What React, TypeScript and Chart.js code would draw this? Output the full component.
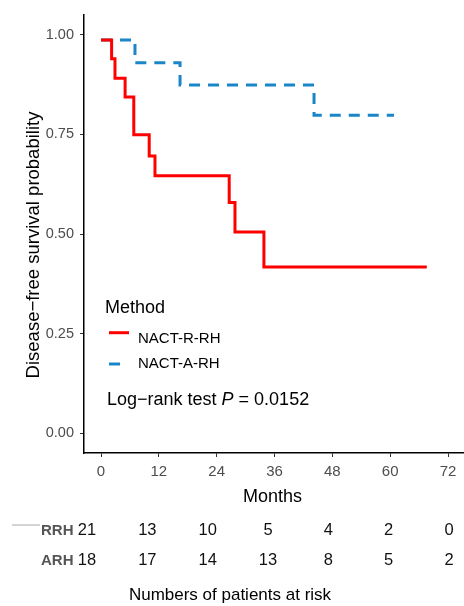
import React, { useEffect, useRef } from 'react';
import { Chart, registerables } from 'chart.js';

Chart.register(...registerables);

// ---- data ----
const seriesNames = ['NACT-R-RH', 'NACT-A-RH'];
const rrhTimes = [0, 2.2, 2.9, 5.0, 6.8, 10.0, 11.2, 26.6, 27.8, 33.8, 67.6];
const rrhSurv = [0.987, 0.94, 0.891, 0.844, 0.749, 0.696, 0.646, 0.579, 0.505, 0.417, 0.417];
const arhTimes = [0, 7.05, 16.4, 44.2, 60.8];
const arhSurv = [0.987, 0.93, 0.874, 0.798, 0.798];
const xTicks = [0, 12, 24, 36, 48, 60, 72];
const yTicks = [0, 0.25, 0.5, 0.75, 1];
const riskGroups = ['RRH', 'ARH'];
const riskRRH = [21, 13, 10, 5, 4, 2, 0];
const riskARH = [18, 17, 14, 13, 8, 5, 2];
const legendTitle = 'Method';
const pValueText = '0.0152';

const FONT = '"Liberation Sans", Arial, Helvetica, sans-serif';
const RED = '#ff0000';
const BLUE = '#1a86c8';

const overlayPlugin = {
  id: 'overlay',
  afterDraw(chart: any) {
    const ctx = chart.ctx as CanvasRenderingContext2D;
    const xs = chart.scales.x;
    ctx.save();

    // y axis title
    ctx.save();
    ctx.translate(38.5, 245);
    ctx.rotate(-Math.PI / 2);
    ctx.font = `18.5px ${FONT}`;
    ctx.fillStyle = '#000';
    ctx.textAlign = 'center';
    ctx.textBaseline = 'alphabetic';
    ctx.fillText('Disease\u2212free survival probability', 0, 0);
    ctx.restore();

    // x axis title
    ctx.font = `18px ${FONT}`;
    ctx.fillStyle = '#000';
    ctx.textAlign = 'center';
    ctx.textBaseline = 'alphabetic';
    ctx.fillText('Months', 272.5, 501.5);

    // legend
    ctx.textAlign = 'left';
    ctx.font = `18px ${FONT}`;
    ctx.fillText(legendTitle, 105, 313.3);
    ctx.lineWidth = 3;
    ctx.strokeStyle = RED;
    ctx.beginPath();
    ctx.moveTo(109, 332.7);
    ctx.lineTo(129, 332.7);
    ctx.stroke();
    ctx.strokeStyle = BLUE;
    ctx.beginPath();
    ctx.moveTo(109, 364);
    ctx.lineTo(120, 364);
    ctx.stroke();
    ctx.font = `15px ${FONT}`;
    ctx.fillStyle = '#000';
    ctx.fillText(seriesNames[0], 138, 342.5);
    ctx.fillText(seriesNames[1], 138, 367.7);

    // log-rank annotation
    ctx.font = `18px ${FONT}`;
    let tx = 107;
    const part1 = 'Log\u2212rank test ';
    ctx.fillText(part1, tx, 405);
    tx += ctx.measureText(part1).width;
    ctx.font = `italic 18px ${FONT}`;
    ctx.fillText('P', tx, 405);
    tx += ctx.measureText('P').width;
    ctx.font = `18px ${FONT}`;
    ctx.fillText(' = ' + pValueText, tx, 405);

    // risk table
    const p0 = xs.getPixelForValue(0);
    const k = 362 / (xs.getPixelForValue(72) - p0);
    const colX = (t: number) => 87 + (xs.getPixelForValue(t) - p0) * k;

    ctx.strokeStyle = '#d4d4d4';
    ctx.lineWidth = 2;
    ctx.beginPath();
    ctx.moveTo(12, 525);
    ctx.lineTo(40, 525);
    ctx.stroke();

    const rows = [riskRRH, riskARH];
    const baselines = [534.5, 565];
    rows.forEach((row, ri) => {
      ctx.font = `bold 15px ${FONT}`;
      ctx.fillStyle = '#555555';
      ctx.textAlign = 'right';
      ctx.fillText(riskGroups[ri], 73.5, baselines[ri]);
      ctx.font = `16.5px ${FONT}`;
      ctx.fillStyle = '#111';
      ctx.textAlign = 'center';
      row.forEach((n, i) => {
        ctx.fillText(String(n), colX(xTicks[i]), baselines[ri]);
      });
    });

    ctx.font = `17px ${FONT}`;
    ctx.fillStyle = '#000';
    ctx.textAlign = 'center';
    ctx.fillText('Numbers of patients at risk', 230, 600);

    ctx.restore();
  },
};

export default function App() {
  const canvasRef = useRef<HTMLCanvasElement | null>(null);

  useEffect(() => {
    document.body.style.margin = '0';
    const canvas = canvasRef.current;
    if (!canvas) return;
    const chart = new Chart(canvas, {
      type: 'line',
      data: {
        datasets: [
          {
            label: seriesNames[0],
            data: rrhTimes.map((t, i) => ({ x: t, y: rrhSurv[i] })),
            borderColor: RED,
            borderWidth: 3,
            stepped: 'before',
            pointRadius: 0,
            fill: false,
            borderCapStyle: 'butt',
          },
          {
            label: seriesNames[1],
            data: arhTimes.map((t, i) => ({ x: t, y: arhSurv[i] })),
            borderColor: BLUE,
            borderWidth: 3,
            borderDash: [11, 8],
            stepped: 'before',
            pointRadius: 0,
            fill: false,
            borderCapStyle: 'butt',
          },
        ],
      },
      options: {
        animation: false,
        responsive: false,
        devicePixelRatio: 1,
        layout: { padding: { top: 15, left: 0, right: 0, bottom: 0 } },
        plugins: { legend: { display: false }, tooltip: { enabled: false } },
        scales: {
          x: {
            type: 'linear',
            min: -3.53,
            max: 75.32,
            afterBuildTicks: (s: any) => {
              s.ticks = xTicks.map((v) => ({ value: v }));
            },
            afterFit: (s: any) => {
              s.height = 153;
            },
            grid: { drawOnChartArea: false, drawTicks: true, tickLength: 4, color: '#333', lineWidth: 1 },
            border: { display: true, color: '#000', width: 1.5 },
            ticks: {
              color: '#4d4d4d',
              font: { family: FONT, size: 15 },
              padding: 6,
              maxRotation: 0,
              autoSkip: false,
              callback: (v: any) => String(v),
            },
          },
          y: {
            type: 'linear',
            min: -0.05,
            max: 1.05,
            afterBuildTicks: (s: any) => {
              s.ticks = yTicks.map((v) => ({ value: v }));
            },
            afterFit: (s: any) => {
              s.width = 84;
            },
            grid: { drawOnChartArea: false, drawTicks: true, tickLength: 4, color: '#333', lineWidth: 1 },
            border: { display: true, color: '#000', width: 1.5 },
            ticks: {
              color: '#4d4d4d',
              font: { family: FONT, size: 14.5 },
              padding: 6,
              autoSkip: false,
              callback: (v: any) => Number(v).toFixed(2),
            },
          },
        },
      },
      plugins: [overlayPlugin],
    });
    return () => chart.destroy();
  }, []);

  return (
    <div style={{ width: 464, height: 606, background: '#fff' }}>
      <canvas ref={canvasRef} width={464} height={606} style={{ width: 464, height: 606, display: 'block' }} />
    </div>
  );
}
